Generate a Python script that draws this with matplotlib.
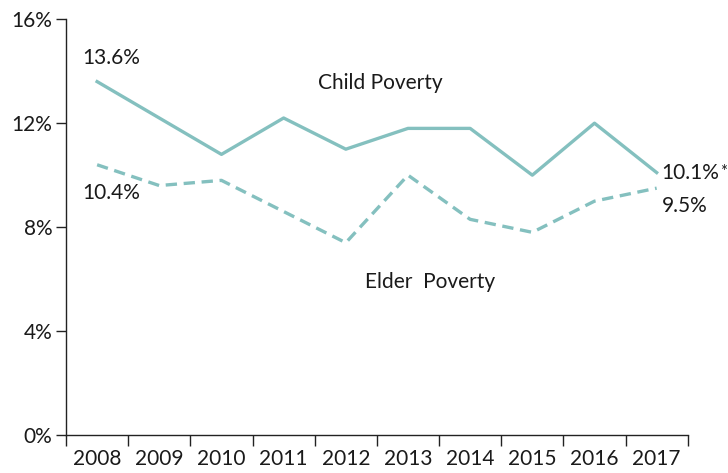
import numpy as np
import matplotlib.pyplot as plt

plt.rcParams['font.family'] = ['Lato', 'DejaVu Sans']

years = ['2008', '2009', '2010', '2011', '2012', '2013', '2014', '2015', '2016', '2017']
child = [13.6, 12.2, 10.8, 12.2, 11.0, 11.8, 11.8, 10.0, 12.0, 10.1]
elder = [10.4, 9.6, 9.8, 8.6, 7.4, 10.0, 8.3, 7.8, 9.0, 9.5]
yticks = [0, 4, 8, 12, 16]

color = '#84c0bf'
tc = '#1a1a1a'
fs = 15

fig = plt.figure(figsize=(7.28, 4.73), dpi=100)
ax = fig.add_axes([0.0907, 0.0803, 0.854, 0.879])

x = np.arange(len(years)) + 0.5
ax.plot(x, child, color=color, linewidth=2.4)
ax.plot(x, elder, color=color, linewidth=2.4, linestyle=(0, (3.4, 2.0)))

ax.set_xlim(0, len(years))
ax.set_ylim(0, 16)
ax.set_yticks(yticks)
ax.set_yticklabels([f'{v}%' for v in yticks])
ax.set_xticks(np.arange(len(years) + 1))
ax.set_xticklabels([])
ax.set_xticks(x, minor=True)
ax.set_xticklabels(years, minor=True)
ax.tick_params(axis='x', which='major', length=8, width=1, color='#222222')
ax.tick_params(axis='x', which='minor', length=0, pad=10, labelsize=fs, labelcolor=tc)
ax.tick_params(axis='y', length=7, width=1, color='#222222', labelsize=fs, labelcolor=tc, pad=3)

for s in ['top', 'right']:
    ax.spines[s].set_visible(False)
for s in ['left', 'bottom']:
    ax.spines[s].set_color('#222222')
    ax.spines[s].set_linewidth(1)

ax.text(0.72, 14.5, f'{child[0]}%', ha='center', va='center', fontsize=fs, color=tc)
ax.text(0.72, 9.3, f'{elder[0]}%', ha='center', va='center', fontsize=fs, color=tc)
ax.text(5.05, 13.55, 'Child Poverty', ha='center', va='center', fontsize=fs, color=tc)
ax.text(5.85, 5.9, 'Elder  Poverty', ha='center', va='center', fontsize=fs, color=tc)
t = ax.text(9.58, 10.1, f'{child[-1]}%', ha='left', va='center', fontsize=fs, color=tc)
ax.annotate('*', xy=(1, 1), xycoords=t, xytext=(0.5, -1), textcoords='offset points',
            ha='left', va='top', fontsize=12, color=tc)
ax.text(9.58, 8.8, f'{elder[-1]}%', ha='left', va='center', fontsize=fs, color=tc)

fig.savefig('out.png', dpi=100)
